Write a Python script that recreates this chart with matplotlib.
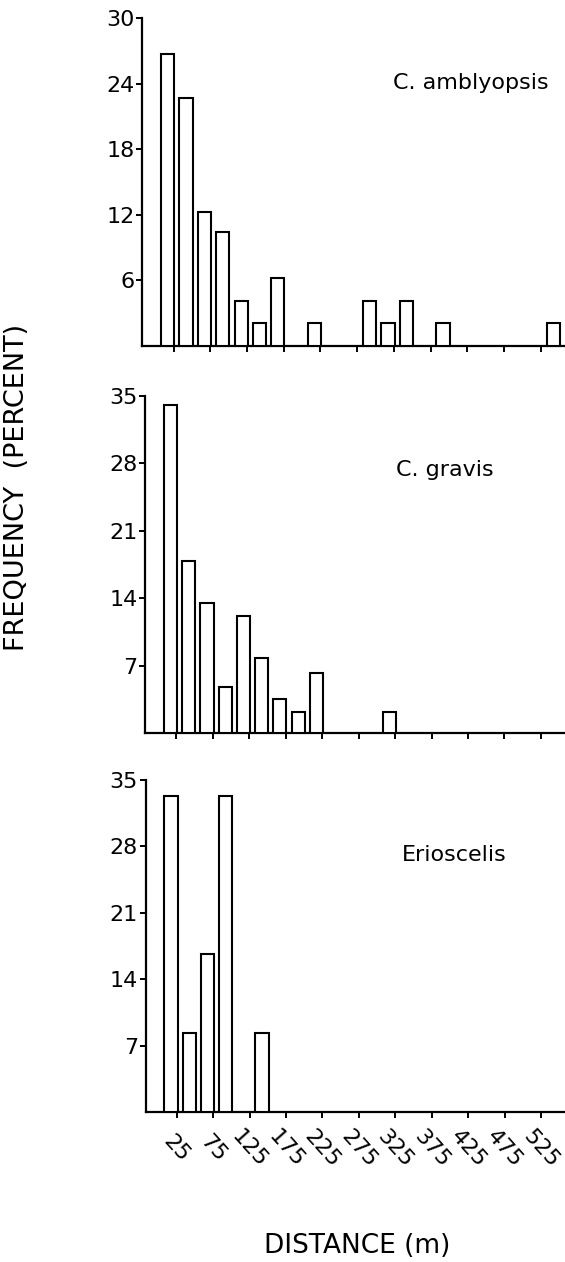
import matplotlib
matplotlib.use("Agg")
import matplotlib.pyplot as plt

W, H, DPI = 565, 1262, 100

# ---- data ----
bin_width = 25  # metres per distance class
tick_values = [25, 75, 125, 175, 225, 275, 325, 375, 425, 475, 525]
tick_labels = [str(v) for v in tick_values]

amb_bins = [0, 1, 2, 3, 4, 5, 6, 8, 11, 12, 13, 15, 21]
amb_pct = [26.7, 22.7, 12.3, 10.4, 4.1, 2.1, 6.2, 2.1, 4.1, 2.1, 4.1, 2.1, 2.1]

grav_bins = [0, 1, 2, 3, 4, 5, 6, 7, 8, 12]
grav_pct = [34.1, 17.9, 13.5, 4.8, 12.1, 7.8, 3.5, 2.2, 6.2, 2.2]

erio_bins = [0, 1, 2, 3, 5]
erio_pct = [33.3, 8.3, 16.7, 33.3, 8.3]

species = ["C. amblyopsis", "C. gravis", "Erioscelis"]
panel_bins = [amb_bins, grav_bins, erio_bins]
panel_pct = [amb_pct, grav_pct, erio_pct]
panel_yticks = [[6, 12, 18, 24, 30], [7, 14, 21, 28, 35], [7, 14, 21, 28, 35]]
panel_ymax = [30, 35, 35]

# ---- layout (pixels) ----
panels_px = [(142, 18, 346), (145, 396, 733), (145.5, 780, 1112)]  # left, top, bottom
label_px = [(393, 83), (396, 470), (402, 855)]
bar_offset = 17
bar_w = 18
xlim = (-18, 558)

plt.rcParams['font.family'] = ['DejaVu Sans']
fig = plt.figure(figsize=(W / DPI, H / DPI), dpi=DPI)

for i in range(3):
    l, t, b = panels_px[i]
    ax = fig.add_axes([l / W, 1 - b / H, (W - l) / W, (b - t) / H])
    xs = [k * bin_width + bar_offset for k in panel_bins[i]]
    ax.bar(xs, panel_pct[i], width=bar_w, facecolor='white', edgecolor='black',
           linewidth=1.5, zorder=3)
    ax.set_xlim(*xlim)
    ax.set_ylim(0, panel_ymax[i])
    ax.set_yticks(panel_yticks[i])
    ax.set_yticklabels([str(v) for v in panel_yticks[i]], fontsize=16)
    ax.set_xticks(tick_values)
    if i == 2:
        ax.set_xticklabels(tick_labels, rotation=-48, ha='center', va='center',
                           fontsize=16)
        ax.tick_params(axis='x', pad=22)
    else:
        ax.set_xticklabels([])
    for s in ['top', 'right']:
        ax.spines[s].set_visible(False)
    for s in ['left', 'bottom']:
        ax.spines[s].set_linewidth(1.6)
    ax.tick_params(direction='out', length=4.5, width=1.4)
    ax.tick_params(axis='y', pad=1)
    ax.patch.set_alpha(0)
    lx, ly = label_px[i]
    fig.text(lx / W, 1 - ly / H, species[i], fontsize=16, ha='left', va='center')

fig.text(17 / W, 1 - 487 / H, "FREQUENCY  (PERCENT)", rotation=90,
         ha='center', va='center', fontsize=19.5)
fig.text(357 / W, 1 - 1246 / H, "DISTANCE (m)", ha='center', va='center',
         fontsize=19)

fig.savefig("out.png", dpi=DPI)
